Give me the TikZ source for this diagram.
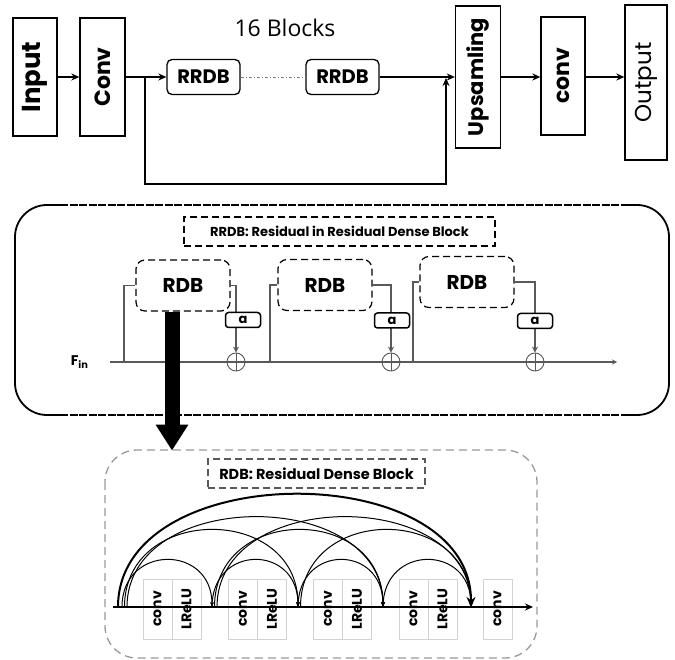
\documentclass[tikz,border=0pt]{standalone}
\usepackage{fontspec}
\setmainfont{Poppins}
\newfontfamily\blocksfont{Open Sans}
\usetikzlibrary{arrows.meta}

\begin{document}
\begin{tikzpicture}[x=1pt,y=-1pt,>={Stealth[length=8pt,width=7pt]},
  longdash/.style={dash pattern=on 7pt off 4pt},
  bigbox/.style={draw,line width=1.3pt,rotate=90,inner sep=0pt,font=\fontsize{22}{22}\selectfont\bfseries},
  rrdb/.style={draw,line width=1.3pt,rounded corners=5pt,minimum width=73pt,minimum height=35pt,font=\fontsize{19.5}{19.5}\selectfont\bfseries},
  rdb/.style={draw,longdash,line width=1.2pt,rounded corners=9pt,minimum width=94pt,minimum height=51pt,font=\fontsize{20}{20}\selectfont\bfseries},
  abox/.style={draw,fill=white,line width=1.5pt,rounded corners=3pt,minimum width=35pt,minimum height=15pt,inner sep=0pt,font=\fontsize{13}{13}\selectfont\bfseries},
  plus/.style={draw=gray!70!black,circle,line width=0.9pt,minimum size=18pt,inner sep=0pt},
  gline/.style={draw=gray!70!black,line width=1.2pt},
  cbox/.style={draw=gray!35,rotate=90,minimum width=60pt,minimum height=29pt,inner sep=0pt,font=\fontsize{14}{14}\selectfont\bfseries},
  arc/.style={line width=1pt,-{Stealth[length=5pt,width=4pt]}}]
\useasboundingbox (0,0) rectangle (675,660);

\node at (35,77) [bigbox,minimum width=118pt,minimum height=44pt,font=\fontsize{26}{26}\selectfont\bfseries] (input) {Input};
\node at (102.5,77) [bigbox,minimum width=118pt,minimum height=45pt] (conv) {Conv};
\node at (203.5,77) [rrdb] (rrdbA) {RRDB};
\node at (342.5,77) [rrdb] (rrdbB) {RRDB};
\node at (478,77) [bigbox,minimum width=142pt,minimum height=45pt,font=\fontsize{21}{21}\selectfont\bfseries] (up) {Upsamling};
\node at (563,76) [bigbox,minimum width=118pt,minimum height=44pt] (convB) {conv};
\node at (646,82.5) [bigbox,minimum width=155pt,minimum height=42pt,font=\fontsize{23}{23}\selectfont] (output) {Output};
\node at (285,28) [font=\blocksfont\fontsize{23}{23}\selectfont] (blocks) {16 Blocks};
\coordinate (br) at (145,77);
\coordinate (mg) at (446,78);
\draw[line width=1.6pt,->] (input) -- (conv);
\draw[line width=1.6pt,->] (conv) -- (rrdbA);
\draw[gray,line width=0.8pt,dash pattern=on 3pt off 2pt on 1pt off 2pt] (rrdbA) -- (rrdbB);
\draw[line width=1.6pt,->] (rrdbB) -- (rrdbB -| up.north);
\draw[line width=1.6pt,->] (br) -- ++(0,107) -| (mg);
\draw[line width=1.6pt,->] (rrdbB -| up.south) -- (rrdbB -| convB.north);
\draw[line width=1.6pt,->] (rrdbB -| convB.south) -- (rrdbB -| output.north);

\draw[line width=1.8pt,rounded corners=32pt] (60,205) -- (15,205) -- (15,415) -- (60,415);
\draw[line width=1.8pt,rounded corners=32pt] (624,205) -- (669,205) -- (669,415) -- (624,415);
\draw[line width=1.8pt,dash pattern=on 8pt off 1.5pt] (60,205) -- (624,205) (60,415) -- (624,415);
\node at (339.5,231.5) [draw,longdash,line width=1.2pt,minimum width=311pt,minimum height=29pt,font=\fontsize{13}{13}\selectfont\bfseries] (rrdbt) {RRDB: Residual in Residual Dense Block};
\node at (183,285.5) [rdb] (r1) {RDB};
\node at (325,285) [rdb] (r2) {RDB};
\node at (467,282) [rdb] (r3) {RDB};
\coordinate (fin) at (110,362);
\coordinate (fout) at (617,362);
\node at (fin) [left=18pt,font=\fontsize{14}{14}\selectfont\bfseries] (flabel) {F\textsubscript{in}};
\node at (236,362) [plus] (c1) {};
\node at (391,362) [plus] (c2) {};
\node at (535,362) [plus] (c3) {};
\draw[gline,-{Stealth[length=5pt,width=5pt]}] (fin) -- (fout);
\foreach \k/\lx in {1/124,2/270,3/413} {
  \draw[gline] (\lx,362) |- (r\k.west);
  \draw[gline,-{Stealth[length=6pt,width=6pt]}] (r\k.east) -| (c\k.north);
  \draw[gray!70!black,line width=0.9pt] (c\k.north) -- (c\k.south) (c\k.west) -- (c\k.east);
}
\node at (243,320) [abox] (a1) {a};
\node at (392,320.5) [abox] (a2) {a};
\node at (535,321) [abox] (a3) {a};

\draw[gray!80,line width=1.3pt,dash pattern=on 8pt off 5pt,rounded corners=32pt] (105,450) rectangle (537,658);
\draw[line width=15pt,-{Triangle[width=31pt,length=26pt]}] ([xshift=-11pt]r1.south) -- ++(0,139);
\node at (316.5,473.5) [draw=gray!70!black,longdash,line width=1.2pt,minimum width=217pt,minimum height=29pt,font=\fontsize{14.5}{14.5}\selectfont\bfseries] (rdbt) {RDB: Residual Dense Block};
\foreach \x [count=\i] in {157.5,243,328,413.5} {
  \node at (\x,609) [cbox] (cv\i) {conv};
  \node at (\x+29,609) [cbox] (lr\i) {LReLU};
}
\node at (497.5,609) [cbox] (cv5) {conv};
\coordinate (b0) at (113,607);
\coordinate (b1) at (533,607);
\foreach \i/\x in {0/122,1/212,2/298,3/383,4/471} \coordinate (p\i) at (\x,607);
\draw[line width=1.5pt,-{Stealth[length=8pt,width=7pt]}] (b0) -- (b1);
\foreach \i/\j/\c in {0/1/63,1/2/63,2/3/63,3/4/63,0/2/103,1/3/103,2/4/103,0/3/120,1/4/120}
  \draw[arc] ([xshift={(\j-\i-1)*2.5pt}]p\i) .. controls +(0,-\c) and +(0,-\c) .. (p\j);
\draw[line width=2pt,-{Stealth[length=10pt,width=9pt]}] ([xshift=-4pt]p0) .. controls +(0,-150) and +(0,-150) .. (p4);
\end{tikzpicture}
\end{document}
